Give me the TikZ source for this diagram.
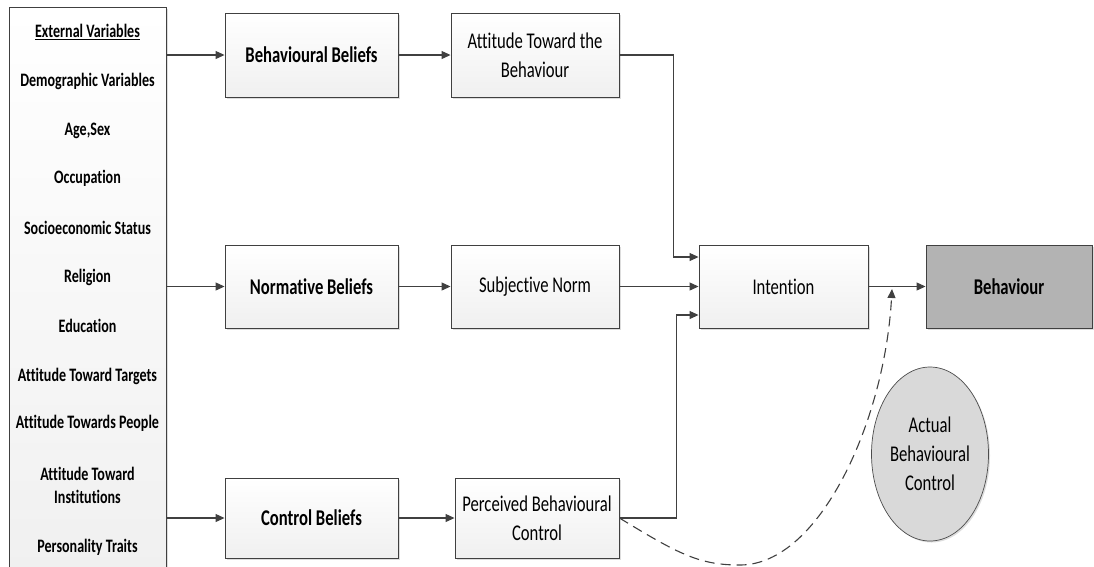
\documentclass[tikz,border=0pt]{standalone}
\usepackage{fontspec}
\setmainfont{Carlito}[FakeStretch=0.74,Ligatures=NoCommon]
\usetikzlibrary{arrows.meta,shadows,shapes.geometric}

\definecolor{lnc}{HTML}{404040}
\definecolor{behc}{HTML}{B3B3B3}
\definecolor{abcc}{HTML}{D9D9D9}

\begin{document}
\begin{tikzpicture}[x=1pt,y=-1pt,
    arr/.style={draw=lnc,line width=1.1pt,-{Triangle[length=9pt,width=8pt]}},
    box/.style={draw=lnc,line width=0.9pt,top color=white,bottom color=gray!12,
                drop shadow={shadow xshift=1.5pt,shadow yshift=-1.5pt,fill=gray!45,opacity=0.6},
                align=center,inner sep=2pt,font=\fontsize{22.5}{29}\selectfont},
    bbox/.style={box,font=\fontsize{22.5}{29}\selectfont\bfseries}]
                \useasboundingbox(0,0)rectangle(1094,566);
                % external variables
                \node[box,minimum width=157pt,minimum height=580pt](ext)at(87.5,297){};
                \foreach \txt/\yy [count=\i] in {\underline{External Variables}/32,
                        Demographic Variables/81,{Age,Sex}/131,Occupation/178,
                        Socioeconomic Status/228,Religion/277,Education/326,
                        Attitude Toward Targets/376,Attitude Towards People/423,
                        {Attitude Toward\\Institutions}/485,Personality Traits/547}
                    \node[align=center,inner sep=0pt,font=\fontsize{19}{23}\selectfont\bfseries](ev\i)at(87.5,\yy){\txt};
                % beliefs
                \node[bbox,minimum width=173pt,minimum height=84pt](bb)at(311.5,55){Behavioural Beliefs};
                \node[bbox,minimum width=173pt,minimum height=83pt](nb)at(311.5,286.5){Normative Beliefs};
                \node[bbox,minimum width=173pt,minimum height=80pt](cb)at(311.5,518){Control Beliefs};
                \node[box,minimum width=168pt,minimum height=84pt](atb)at(535,55){Attitude Toward the\\Behaviour};
                \node[box,minimum width=168pt,minimum height=83pt](sn)at(535,286.5){Subjective Norm};
                \node[box,minimum width=164pt,minimum height=80pt](pbc)at(537,518){Perceived Behavioural\\Control};
                \node[box,minimum width=169pt,minimum height=83pt](intn)at(783.5,286.5){Intention};
                \node[bbox,bottom color=behc,top color=behc,minimum width=166pt,minimum height=83pt](beh)at(1009,286.5){Behaviour};
                \node[ellipse,draw=gray!60!black,fill=abcc,line width=0.7pt,minimum width=117pt,minimum height=174pt,
                      drop shadow={shadow xshift=1.5pt,shadow yshift=-1.5pt,fill=gray!45,opacity=0.6},
                      align=center,inner sep=0pt,font=\fontsize{22.5}{29}\selectfont](abc)at(930,454){Actual\\Behavioural\\Control};
                % arrows
                \draw[arr](ext.east|-bb.west)--(bb.west);
                \draw[arr](ext.east|-nb.west)--(nb.west);
                \draw[arr](ext.east|-cb.west)--(cb.west);
                \draw[arr](bb.east)--(atb.west);
                \draw[arr](nb.east)--(sn.west);
                \draw[arr](cb.east)--(pbc.west);
                \draw[arr](atb.east)-|([xshift=-25pt,yshift=29.5pt]intn.west)--([yshift=29.5pt]intn.west);
                \draw[arr](sn.east)--(intn.west);
                \draw[arr](pbc.east)-|([xshift=-22pt,yshift=-28.5pt]intn.west)--([yshift=-28.5pt]intn.west);
                \draw[arr](intn.east)--(beh.west);
                \coordinate(tip)at(892,289);
                \draw[arr,dash pattern=on 10pt off 6pt](pbc.east).. controls(680,555)and(700,565)..(740,565)
                    .. controls(820,565)and(885,420)..(tip);
            \end{tikzpicture}
\end{document}
